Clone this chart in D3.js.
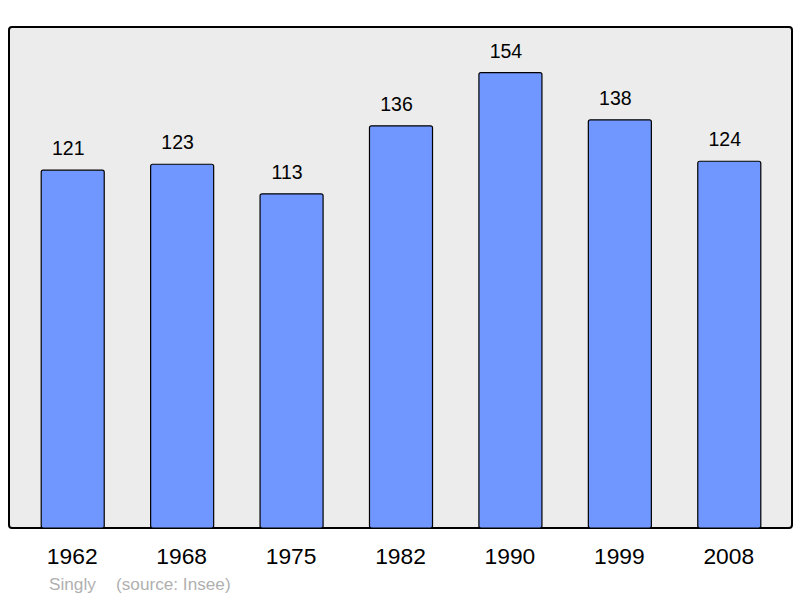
<!DOCTYPE html>
<html><head><meta charset="utf-8">
<script src="https://cdn.jsdelivr.net/npm/d3@7"></script>
<style>body{margin:0;background:#fff}svg{display:block}text{font-family:"Liberation Sans",Arial,sans-serif}</style>
</head><body>
<script>
const years = ["1962","1968","1975","1982","1990","1999","2008"];
const population = [121,123,113,136,154,138,124];
const commune = "Singly";
const source = "(source: Insee)";

const W=800,H=598;
const svg=d3.select("body").append("svg").attr("width",W).attr("height",H);
const panel={x:9,y:27,w:783,h:501};
svg.append("rect").attr("x",panel.x).attr("y",panel.y).attr("width",panel.w).attr("height",panel.h)
  .attr("rx",3).attr("fill","#ececec").attr("stroke","#000").attr("stroke-width",2);

const x=d3.scaleBand().domain(years).range([18,784]).paddingInner(0.424).paddingOuter(0.212);
const y=d3.scaleLinear().domain([0,d3.max(population)*1.1]).range([528,27]);

svg.selectAll("rect.bar").data(years).join("rect").attr("class","bar")
  .attr("x",d=>x(d)).attr("width",x.bandwidth())
  .attr("y",(d,i)=>y(population[i])).attr("height",(d,i)=>528-y(population[i]))
  .attr("rx",2).attr("fill","#7096ff").attr("stroke","#000").attr("stroke-width",1.2);

svg.selectAll("text.val").data(years).join("text").attr("class","val")
  .attr("x",d=>x(d)+x.bandwidth()/2-4.5).attr("y",(d,i)=>y(population[i])-15)
  .attr("text-anchor","middle").attr("font-size",19.5).attr("fill","#000")
  .text((d,i)=>population[i]);

svg.selectAll("text.yr").data(years).join("text").attr("class","yr")
  .attr("x",d=>x(d)+x.bandwidth()/2-0.5).attr("y",564)
  .attr("text-anchor","middle").attr("font-size",22.8).attr("fill","#000")
  .text(d=>d);

svg.append("text").attr("x",49).attr("y",590).attr("font-size",17.2).attr("fill","#b0b0b0").text(commune);
svg.append("text").attr("x",116).attr("y",590).attr("font-size",17.2).attr("fill","#b0b0b0").text(source);
</script>
</body></html>
